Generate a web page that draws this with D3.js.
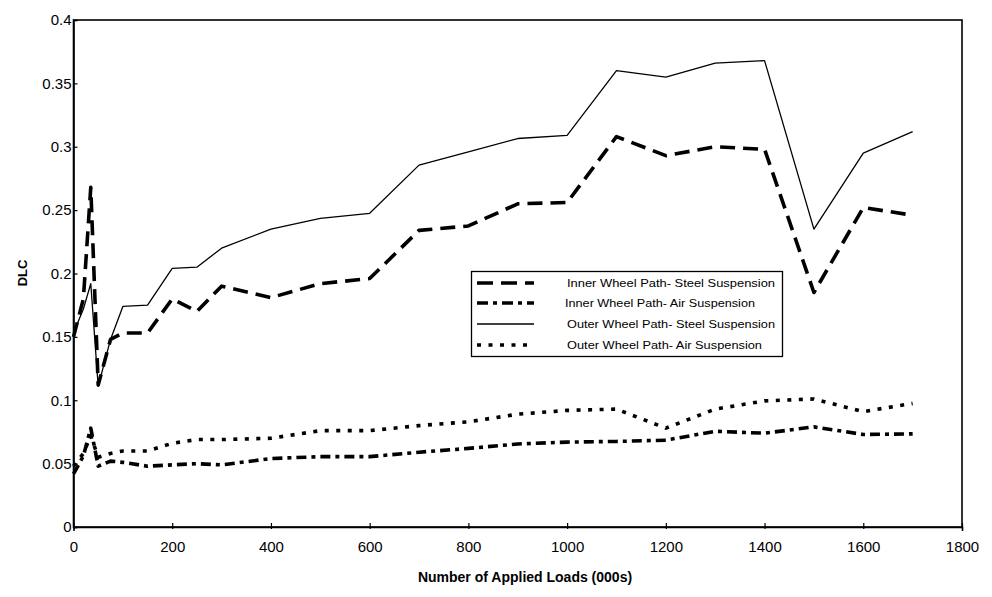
<!DOCTYPE html>
<html>
<head>
<meta charset="utf-8">
<script src="https://cdn.jsdelivr.net/npm/d3@7"></script>
<style>
  html, body { margin: 0; padding: 0; background: #fff; }
  svg { display: block; font-family: "Liberation Sans", Arial, sans-serif; }
</style>
</head>
<body>
<svg id="chart" width="992" height="597"></svg>
<script>
// Applied loads (thousands) at which DLC was measured
const loads = [0, 20, 35, 50, 75, 100, 150, 200, 250, 300, 400, 500, 600, 700, 800, 900, 1000, 1100, 1200, 1300, 1400, 1500, 1600, 1700];

// DLC per wheel path / suspension type
const innerSteel = [0.150, 0.180, 0.268, 0.112, 0.148, 0.153, 0.153, 0.180, 0.170, 0.190, 0.181, 0.192, 0.196, 0.234, 0.2375, 0.255, 0.256, 0.308, 0.293, 0.300, 0.298, 0.185, 0.252, 0.246];
const innerAir   = [0.042, 0.056, 0.078, 0.048, 0.052, 0.051, 0.048, 0.049, 0.050, 0.049, 0.054, 0.0555, 0.0555, 0.059, 0.062, 0.0655, 0.067, 0.0675, 0.0685, 0.0755, 0.074, 0.079, 0.073, 0.0735];
const outerSteel = [0.153, 0.172, 0.192, 0.111, 0.148, 0.174, 0.175, 0.204, 0.205, 0.220, 0.235, 0.2435, 0.2475, 0.2855, 0.296, 0.3065, 0.309, 0.360, 0.355, 0.366, 0.368, 0.235, 0.295, 0.312];
const outerAir   = [0.048, 0.058, 0.072, 0.055, 0.058, 0.060, 0.060, 0.066, 0.069, 0.069, 0.070, 0.076, 0.076, 0.080, 0.083, 0.089, 0.092, 0.093, 0.078, 0.093, 0.0995, 0.101, 0.091, 0.0975];

const seriesNames = [
  "Inner Wheel Path- Steel Suspension",
  "Inner Wheel Path- Air Suspension",
  "Outer Wheel Path- Steel Suspension",
  "Outer Wheel Path- Air Suspension"
];

const xTicks = [0, 200, 400, 600, 800, 1000, 1200, 1400, 1600, 1800];
const yTicks = [0, 0.05, 0.1, 0.15, 0.2, 0.25, 0.3, 0.35, 0.4];

const svg = d3.select("#chart");
const plotL = 73.5, plotR = 962, plotT = 20, plotB = 527;

const x = d3.scaleLinear().domain([0, 1800]).range([plotL, plotR]);
const y = d3.scaleLinear().domain([0, 0.4]).range([plotB, plotT]);

// line styles for the four series
const styles = [
  { values: innerSteel, width: 3.6, dash: "15,8" },
  { values: innerAir,   width: 3.6, dash: "10,5,4,5" },
  { values: outerSteel, width: 1.3, dash: null },
  { values: outerAir,   width: 3.6, dash: "4,7.5" }
];

// plot frame
svg.append("rect")
  .attr("x", plotL).attr("y", plotT)
  .attr("width", plotR - plotL).attr("height", plotB - plotT)
  .attr("fill", "none").attr("stroke", "#000").attr("stroke-width", 1.6);

// axes
const xAxis = d3.axisBottom(x).tickValues(xTicks).tickSize(4).tickPadding(10).tickFormat(d3.format("d"));
const yAxis = d3.axisLeft(y).tickValues(yTicks).tickSize(-4).tickPadding(3).tickFormat(d => d === 0 ? "0" : d3.format("")(+d.toFixed(2)));

const gx = svg.append("g").attr("transform", `translate(0,${plotB})`).call(xAxis);
const gy = svg.append("g").attr("transform", `translate(${plotL},0)`).call(yAxis);

[gx, gy].forEach(g => {
  g.select(".domain").attr("stroke", "#000").attr("stroke-width", 1.6);
  g.selectAll(".tick line").attr("stroke", "#000").attr("stroke-width", 1.2);
  g.selectAll(".tick text").attr("fill", "#000").attr("font-size", 15)
    .attr("font-family", "'Liberation Sans', Arial, sans-serif");
});
gx.selectAll(".tick line").attr("y1", -4).attr("y2", 2);
gy.selectAll(".tick line").attr("x1", 0).attr("x2", 4);
gy.selectAll(".tick text").attr("x", -2);

// axis titles
svg.append("text")
  .attr("x", 525).attr("y", 582)
  .attr("text-anchor", "middle")
  .attr("font-size", 14).attr("font-weight", "bold")
  .text("Number of Applied Loads (000s)");

svg.append("text")
  .attr("transform", "translate(27,273) rotate(-90)")
  .attr("text-anchor", "middle")
  .attr("font-size", 13).attr("font-weight", "bold")
  .text("DLC");

// series lines
const line = d3.line().x((d, i) => x(loads[i])).y(d => y(d));
styles.forEach(s => {
  svg.append("path")
    .datum(s.values)
    .attr("d", line)
    .attr("fill", "none")
    .attr("stroke", "#000")
    .attr("stroke-width", s.width)
    .attr("stroke-linejoin", "round")
    .attr("stroke-dasharray", s.dash);
});

// legend
const lg = svg.append("g");
lg.append("rect")
  .attr("x", 471.5).attr("y", 271.5).attr("width", 311).attr("height", 85)
  .attr("fill", "#fff").attr("stroke", "#000").attr("stroke-width", 1.3);

const rowY = [283, 303, 324, 345];
const legendDash = ["16,8", "11,5,4,5", null, "4,7.5"];
seriesNames.forEach((name, i) => {
  lg.append("line")
    .attr("x1", 477).attr("x2", 534)
    .attr("y1", rowY[i]).attr("y2", rowY[i])
    .attr("stroke", "#000")
    .attr("stroke-width", i === 2 ? 1.3 : 3.6)
    .attr("stroke-dasharray", legendDash[i]);
  lg.append("text")
    .attr("x", i === 1 ? 565 : 567).attr("y", rowY[i] + 4)
    .attr("font-size", 11.5)
    .attr("textLength", i === 1 ? 190 : (i === 3 ? 195 : 208))
    .attr("lengthAdjust", "spacingAndGlyphs")
    .text(name);
});
</script>
</body>
</html>
